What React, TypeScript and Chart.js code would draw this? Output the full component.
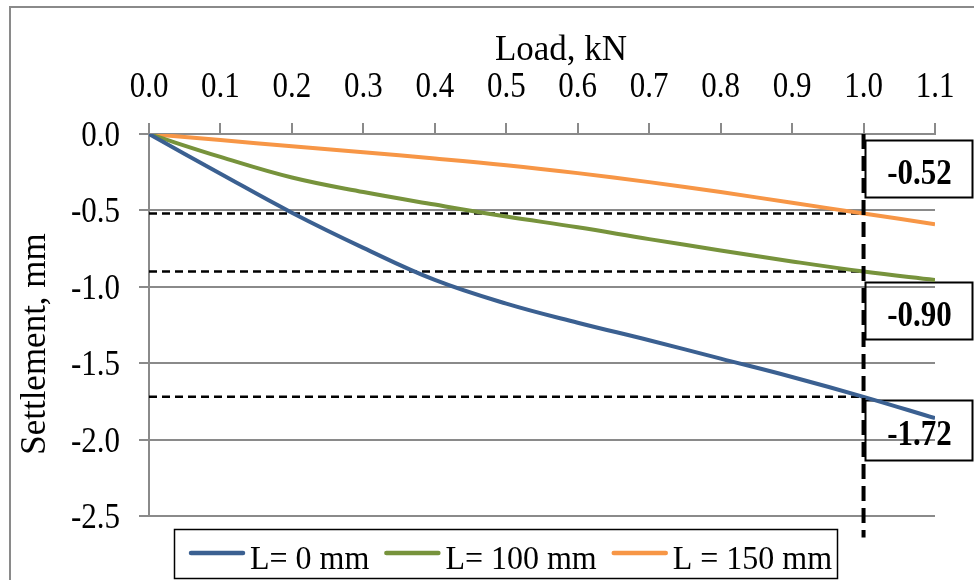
import React, { useEffect, useRef } from "react";
import { Chart, registerables } from "chart.js";

Chart.register(...registerables);

// ---- data ----
const loads = [0, 0.1, 0.2, 0.3, 0.4, 0.5, 0.6, 0.7, 0.8, 0.9, 1.0, 1.1];
const settleL0 = [0, -0.26, -0.515, -0.745, -0.955, -1.11, -1.235, -1.35, -1.47, -1.59, -1.72, -1.86];
const settleL100 = [0, -0.15, -0.285, -0.38, -0.462, -0.54, -0.61, -0.688, -0.762, -0.834, -0.9, -0.955];
const settleL150 = [0, -0.04, -0.08, -0.12, -0.16, -0.204, -0.256, -0.315, -0.38, -0.45, -0.52, -0.59];
const seriesLabels = ["L= 0 mm", "L= 100 mm", "L = 150 mm"];
const seriesColors = ["#3B6091", "#77933C", "#F79646"];
const xTicks = [0, 0.1, 0.2, 0.3, 0.4, 0.5, 0.6, 0.7, 0.8, 0.9, 1.0, 1.1];
const yTicks = [0, -0.5, -1.0, -1.5, -2.0, -2.5];
const refLoad = 1.0;
const refValues = [-0.52, -0.9, -1.72];
const refLabels = ["-0.52", "-0.90", "-1.72"];
const refVerticalRange = [0, -2.64];
const xTitle = "Load, kN";
const yTitle = "Settlement, mm";

// ---- styling / layout (not data) ----
const FONT = '"Liberation Serif", "Times New Roman", serif';
const GRID = "#8a8a8a";
const boxTopOffsets = [-73, 10, 3]; // px from the reference value's pixel
const boxHeights = [57, 57, 60];

const series = [settleL0, settleL100, settleL150];

function stretchedText(ctx: any, text: string, x: number, y: number, sy: number) {
  ctx.save();
  ctx.translate(x, y);
  ctx.scale(1, sy);
  ctx.fillText(text, 0, 0);
  ctx.restore();
}

const overlayPlugin = {
  id: "overlay",
  beforeDraw(chart: any) {
    const ctx = chart.ctx;
    ctx.save();
    ctx.fillStyle = "#ffffff";
    ctx.fillRect(0, 0, chart.width, chart.height);
    ctx.strokeStyle = GRID;
    ctx.lineWidth = 2;
    ctx.beginPath();
    ctx.moveTo(10, chart.height);
    ctx.lineTo(10, 7);
    ctx.lineTo(chart.width, 7);
    ctx.stroke();
    ctx.restore();
  },
  beforeDatasetsDraw(chart: any) {
    const ctx = chart.ctx;
    const xs = chart.scales.x;
    const ys = chart.scales.y;
    const xp = xs.getPixelForValue(refLoad);
    ctx.save();
    refValues.forEach((v, i) => {
      const yp = ys.getPixelForValue(v);
      const left = Math.round(xp) + 1;
      const top = Math.round(yp + boxTopOffsets[i]);
      const w = 107;
      const h = boxHeights[i];
      ctx.strokeStyle = "#000";
      ctx.lineWidth = 2;
      ctx.strokeRect(left + 0.5, top + 0.5, w, h);
      ctx.fillStyle = "#000";
      ctx.font = `bold 31px ${FONT}`;
      ctx.textAlign = "center";
      ctx.textBaseline = "alphabetic";
      stretchedText(ctx, refLabels[i], left + w / 2 + 1, top + h / 2 + 15, 1.18);
    });
    ctx.restore();
  },
  afterDraw(chart: any) {
    const ctx = chart.ctx;
    const area = chart.chartArea;
    const xs = chart.scales.x;
    const ys = chart.scales.y;
    ctx.save();
    ctx.fillStyle = "#000";
    // tick labels
    ctx.font = `31px ${FONT}`;
    ctx.textBaseline = "alphabetic";
    ctx.textAlign = "center";
    xTicks.forEach((v) => {
      stretchedText(ctx, v.toFixed(1), xs.getPixelForValue(v), 97, 1.14);
    });
    ctx.textAlign = "right";
    yTicks.forEach((v) => {
      stretchedText(ctx, v.toFixed(1), 120, ys.getPixelForValue(v) + 12, 1.14);
    });
    // x title
    ctx.font = `35px ${FONT}`;
    ctx.textAlign = "center";
    ctx.fillText(xTitle, (area.left + area.right) / 2 + 19, 60);
    // y title
    ctx.save();
    ctx.translate(45, (area.top + area.bottom) / 2 + 19);
    ctx.rotate(-Math.PI / 2);
    ctx.fillText(yTitle, 0, 0);
    ctx.restore();
    // legend
    ctx.font = `32px ${FONT}`;
    const boxL = 174, boxT = 529, boxR = 837, boxB = 578;
    ctx.strokeStyle = "#000";
    ctx.lineWidth = 1.5;
    ctx.strokeRect(boxL + 0.5, boxT + 0.5, boxR - boxL, boxB - boxT);
    let x = 191;
    const lineY = 553;
    seriesLabels.forEach((lab, i) => {
      ctx.strokeStyle = seriesColors[i];
      ctx.lineWidth = 4.5;
      ctx.lineCap = "round";
      ctx.beginPath();
      ctx.moveTo(x, lineY);
      ctx.lineTo(x + 52, lineY);
      ctx.stroke();
      ctx.textAlign = "left";
      ctx.textBaseline = "alphabetic";
      ctx.fillStyle = "#000";
      stretchedText(ctx, lab, x + 59, 569, 1.06);
      x = x + 59 + ctx.measureText(lab).width + 17;
    });
    ctx.restore();
  },
};

export default function App() {
  const ref = useRef<HTMLCanvasElement | null>(null);
  useEffect(() => {
    if (!ref.current) return;
    const datasets: any[] = [];
    series.forEach((s, i) => {
      datasets.push({
        label: seriesLabels[i],
        data: loads.map((x, j) => ({ x, y: s[j] })),
        borderColor: seriesColors[i],
        backgroundColor: seriesColors[i],
        borderWidth: 4,
        pointRadius: 0,
        tension: 0.4,
        fill: false,
        order: 1,
      });
    });
    refValues.forEach((v) => {
      datasets.push({
        label: "ref " + v,
        data: [
          { x: 0, y: v },
          { x: refLoad, y: v },
        ],
        borderColor: "#000",
        borderWidth: 2.5,
        borderDash: [8, 5],
        pointRadius: 0,
        fill: false,
        order: 2,
      });
    });
    datasets.push({
      label: "ref vertical",
      data: refVerticalRange.map((y) => ({ x: refLoad, y })),
      borderColor: "#000",
      borderWidth: 4,
      borderDash: [15, 7],
      pointRadius: 0,
      fill: false,
      clip: false,
      order: 0,
    });

    const chart = new Chart(ref.current, {
      type: "line",
      data: { datasets },
      options: {
        animation: false,
        responsive: false,
        devicePixelRatio: 1,
        layout: { padding: { left: 0, top: 0, right: 39, bottom: 64 } },
        plugins: {
          legend: { display: false },
          tooltip: { enabled: false },
        },
        scales: {
          x: {
            type: "linear",
            position: "top",
            min: 0,
            max: 1.1,
            afterBuildTicks: (s: any) => {
              s.ticks = xTicks.map((v) => ({ value: v }));
            },
            afterFit: (s: any) => {
              s.height = 134;
            },
            ticks: { display: false },
            grid: {
              drawOnChartArea: false,
              drawTicks: true,
              tickLength: 11,
              color: GRID,
              lineWidth: 2,
            },
            border: { display: true, color: GRID, width: 2 },
          },
          y: {
            type: "linear",
            min: -2.5,
            max: 0,
            afterBuildTicks: (s: any) => {
              s.ticks = yTicks.map((v) => ({ value: v }));
            },
            afterFit: (s: any) => {
              s.width = 149;
            },
            ticks: { display: false },
            grid: {
              drawTicks: true,
              tickLength: 10,
              color: GRID,
              lineWidth: 2,
            },
            border: { display: true, color: GRID, width: 2 },
          },
        },
      } as any,
      plugins: [overlayPlugin],
    });
    return () => chart.destroy();
  }, []);

  return (
    <div style={{ position: "fixed", left: 0, top: 0, width: 974, height: 580 }}>
      <canvas ref={ref} width={974} height={580} style={{ width: 974, height: 580 }} />
    </div>
  );
}
